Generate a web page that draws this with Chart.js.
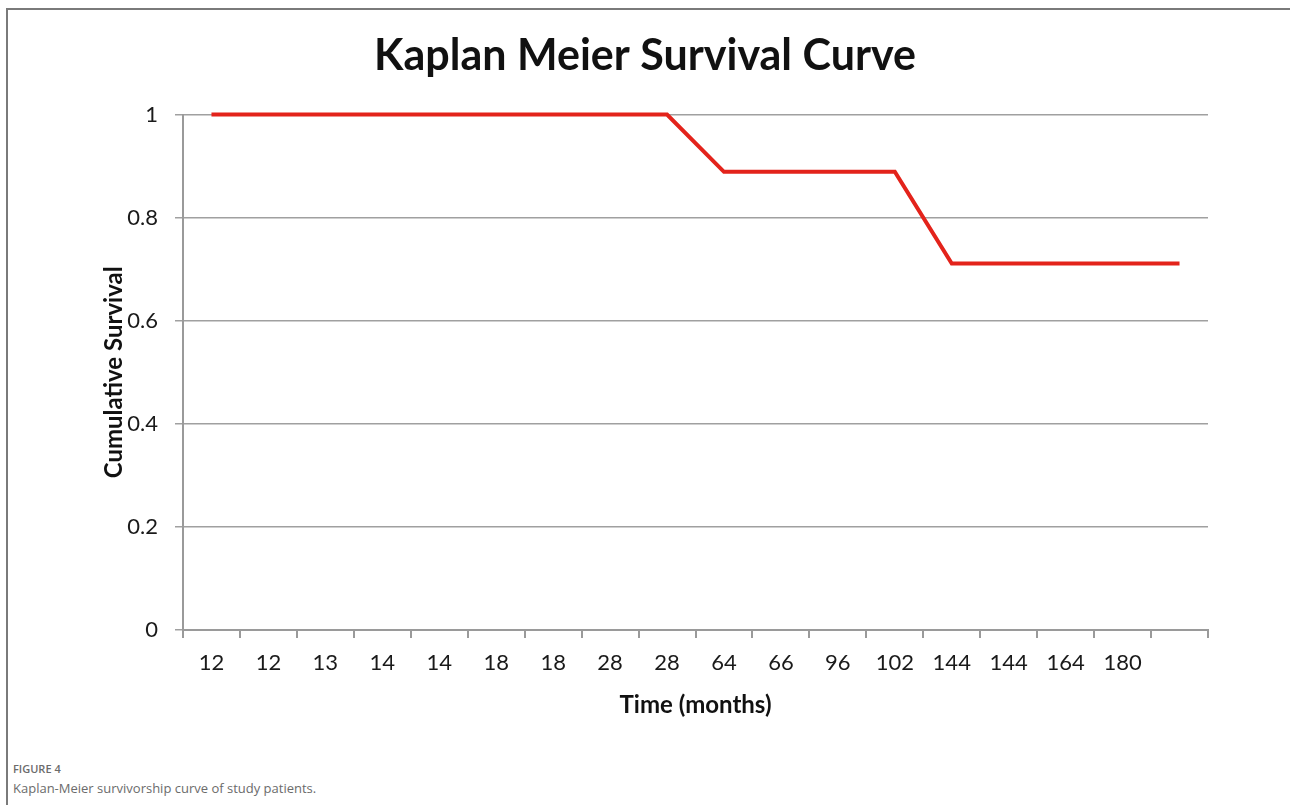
<!DOCTYPE html>
<html>
<head>
<meta charset="utf-8">
<script src="https://cdn.jsdelivr.net/npm/chart.js@4.4.1/dist/chart.umd.min.js"></script>
<style>
  html, body { margin: 0; padding: 0; background: #fff; }
  body { width: 1290px; height: 805px; position: relative; overflow: hidden; }
  .frame { position: absolute; left: 6px; top: 8px; right: 0; bottom: 0;
           border-top: 2px solid #7a7a7a; border-left: 2px solid #7a7a7a; }
  .wrap { position: absolute; left: 10px; top: 10px; width: 1270px; height: 720px; }
  .fig { position: absolute; left: 13px; top: 761px; font-family: "Open Sans", sans-serif;
         font-size: 11px; color: #6b6b6b; font-weight: 600; }
  .cap { position: absolute; left: 13px; top: 779px; font-family: "Open Sans", sans-serif;
         font-size: 13px; color: #6b6b6b; }
</style>
</head>
<body>
<div class="frame"></div>
<div class="wrap"><canvas id="km-chart"></canvas></div>
<div class="fig">FIGURE 4</div>
<div class="cap">Kaplan-Meier survivorship curve of study patients.</div>
<script>
// Дані
const timeLabels = ["12", "12", "13", "14", "14", "18", "18", "28", "28", "64", "66", "96", "102", "144", "144", "164", "180", ""];
const survival = [1, 1, 1, 1, 1, 1, 1, 1, 1, 0.889, 0.889, 0.889, 0.889, 0.711, 0.711, 0.711, 0.711, 0.711];
const yTicks = [0, 0.2, 0.4, 0.6, 0.8, 1];

const textFont = "Lato, 'Open Sans', sans-serif";

const config = {
  type: "line",
  data: {
    labels: timeLabels,
    datasets: [
      {
        label: "Cumulative Survival",
        data: survival,
        borderColor: "#e3231b",
        borderWidth: 4,
        pointRadius: 0,
        tension: 0,
        clip: false,
      },
    ],
  },
  options: {
    responsive: false,
    animation: false,
    layout: { padding: { left: 72, right: 72, top: 0, bottom: 0 } },
    plugins: {
      legend: { display: false },
      tooltip: { enabled: false },
      title: {
        display: true,
        text: "Kaplan Meier Survival Curve",
        color: "#111",
        font: { family: textFont, size: 43, weight: "bold" },
        padding: { top: 20, bottom: 33 },
      },
    },
    scales: {
      x: {
        type: "category",
        offset: true,
        border: { color: "#9a9a9a", width: 2 },
        grid: {
          offset: true,
          drawOnChartArea: false,
          drawTicks: true,
          tickLength: 8,
          color: "#9a9a9a",
          lineWidth: 2,
        },
        ticks: {
          color: "#1a1a1a",
          padding: 12,
          maxRotation: 0,
          autoSkip: false,
          font: { family: textFont, size: 22 },
        },
        title: {
          display: true,
          text: "Time (months)",
          color: "#111",
          font: { family: textFont, size: 24, weight: "bold" },
          padding: { top: 0, bottom: 10 },
        },
        afterFit: (scale) => { scale.height = 100; },
      },
      y: {
        min: 0,
        max: 1,
        afterBuildTicks: (scale) => { scale.ticks = yTicks.map((v) => ({ value: v })); },
        border: { color: "#9a9a9a", width: 2 },
        grid: {
          color: "#a0a0a0",
          lineWidth: 1.5,
          drawTicks: true,
          tickLength: 8,
        },
        ticks: {
          color: "#1a1a1a",
          padding: 17,
          font: { family: textFont, size: 22 },
          callback: (value) => String(value),
        },
        title: {
          display: true,
          text: "Cumulative Survival",
          color: "#111",
          font: { family: textFont, size: 24, weight: "bold" },
          padding: { top: 18, bottom: 0 },
        },
        afterFit: (scale) => { scale.width = 101; },
      },
    },
  },
};

const canvas = document.getElementById("km-chart");
canvas.width = 1270;
canvas.height = 720;
const kmChart = new Chart(canvas, config);
</script>
</body>
</html>
